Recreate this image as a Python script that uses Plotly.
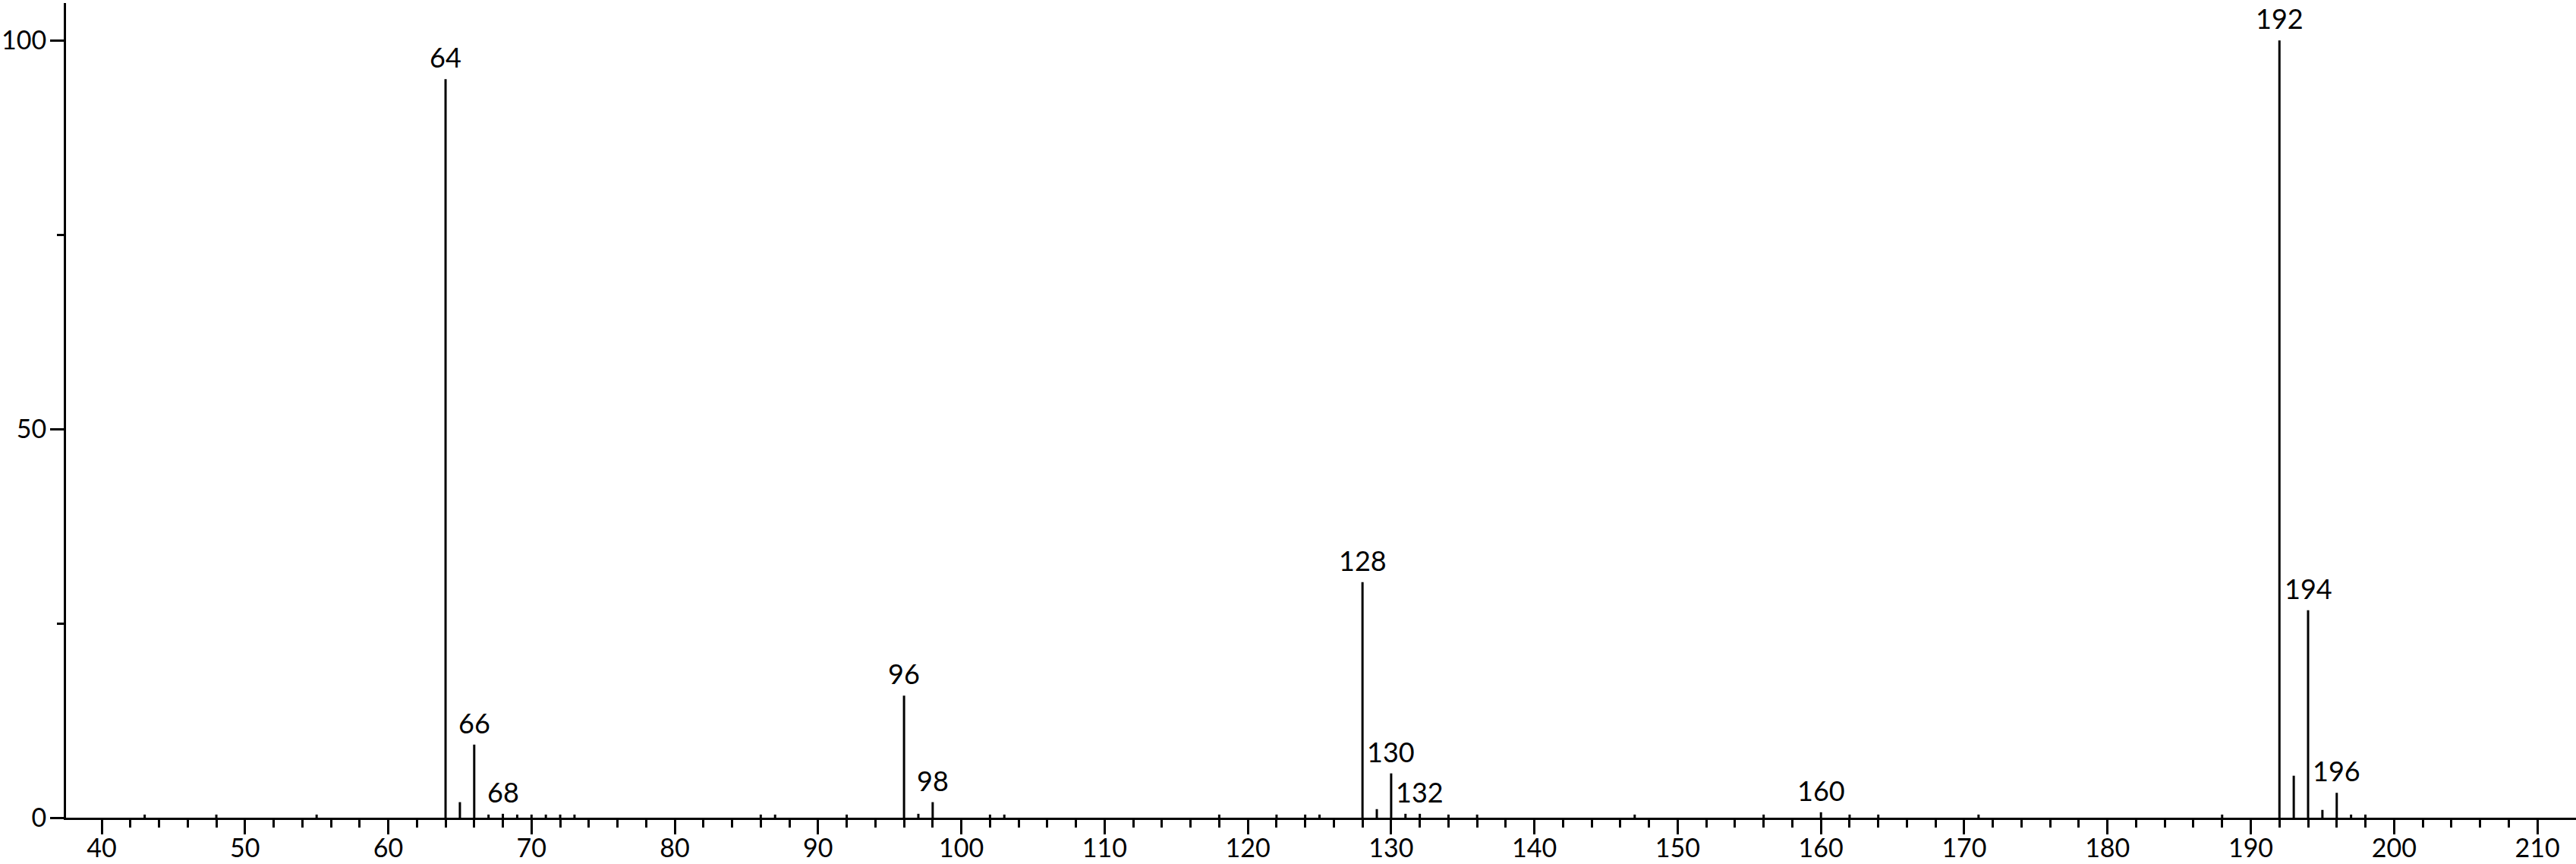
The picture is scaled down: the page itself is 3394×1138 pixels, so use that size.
import plotly.graph_objects as go

# m/z values and relative intensities
mz = [43, 48, 55, 64, 65, 66, 67, 68, 69, 70, 71, 72, 73, 86, 87, 92, 96, 97, 98,
      102, 103, 118, 122, 124, 125, 128, 129, 130, 131, 132, 134, 136, 147, 156,
      160, 162, 164, 171, 188, 192, 193, 194, 195, 196, 197, 198]
intensity = [0.4, 0.4, 0.4, 95.0, 2.0, 9.4, 0.4, 0.5, 0.4, 0.4, 0.4, 0.4, 0.4, 0.4, 0.4, 0.4, 15.7, 0.5, 2.0,
             0.4, 0.4, 0.4, 0.4, 0.4, 0.4, 30.3, 1.1, 5.7, 0.5, 0.5, 0.4, 0.4, 0.4, 0.4,
             0.7, 0.4, 0.4, 0.4, 0.4, 100.0, 5.4, 26.7, 1.0, 3.2, 0.4, 0.4]
labeled = [64, 66, 68, 96, 98, 128, 130, 132, 160, 192, 194, 196]

x_major = list(range(40, 211, 10))
x_minor = [v for v in range(42, 210, 2) if v % 10 != 0]
y_major = [0, 50, 100]
y_minor = [25, 75]

FONT = "Lato"

xs, ys = [], []
for m, v in zip(mz, intensity):
    xs += [m, m, None]
    ys += [0, v, None]

fig = go.Figure()
fig.add_trace(go.Scatter(x=xs, y=ys, mode="lines",
                         line=dict(color="black", width=3), hoverinfo="skip",
                         showlegend=False))

lookup = dict(zip(mz, intensity))
for m in labeled:
    fig.add_annotation(x=m, y=lookup[m], text=str(m), showarrow=False,
                       xanchor="center", yanchor="bottom", yshift=5,
                       font=dict(family=FONT, size=36, color="black"))

fig.update_layout(
    width=3394, height=1138,
    margin=dict(l=87, r=0, t=4, b=61, autoexpand=False),
    plot_bgcolor="white", paper_bgcolor="white",
    font=dict(family=FONT, size=36, color="black"),
    showlegend=False,
)
fig.update_xaxes(
    range=[37.51, 212.7], showgrid=False, zeroline=False, automargin=False,
    showline=True, linecolor="black", linewidth=3,
    tickmode="array", tickvals=x_major, ticktext=[str(v) for v in x_major],
    ticks="outside", ticklen=19, tickwidth=3, tickcolor="black",
    ticklabelstandoff=-11,
    tickfont=dict(family=FONT, size=34, color="black"),
    minor=dict(tickmode="array", tickvals=x_minor, ticks="outside",
               ticklen=10, tickwidth=3, tickcolor="black", showgrid=False),
)
fig.update_yaxes(
    range=[0, 104.8], showgrid=False, zeroline=False, automargin=False,
    showline=True, linecolor="black", linewidth=3,
    tickmode="array", tickvals=y_major, ticktext=[str(v) for v in y_major],
    ticks="outside", ticklen=18, tickwidth=3, tickcolor="black",
    ticklabelstandoff=-2,
    tickfont=dict(family=FONT, size=34, color="black"),
    minor=dict(tickmode="array", tickvals=y_minor, ticks="outside",
               ticklen=9, tickwidth=3, tickcolor="black", showgrid=False),
)

fig.write_html("out.html", config={"displayModeBar": False},
               post_script="document.body.style.margin='0';document.body.style.overflow='hidden';")
